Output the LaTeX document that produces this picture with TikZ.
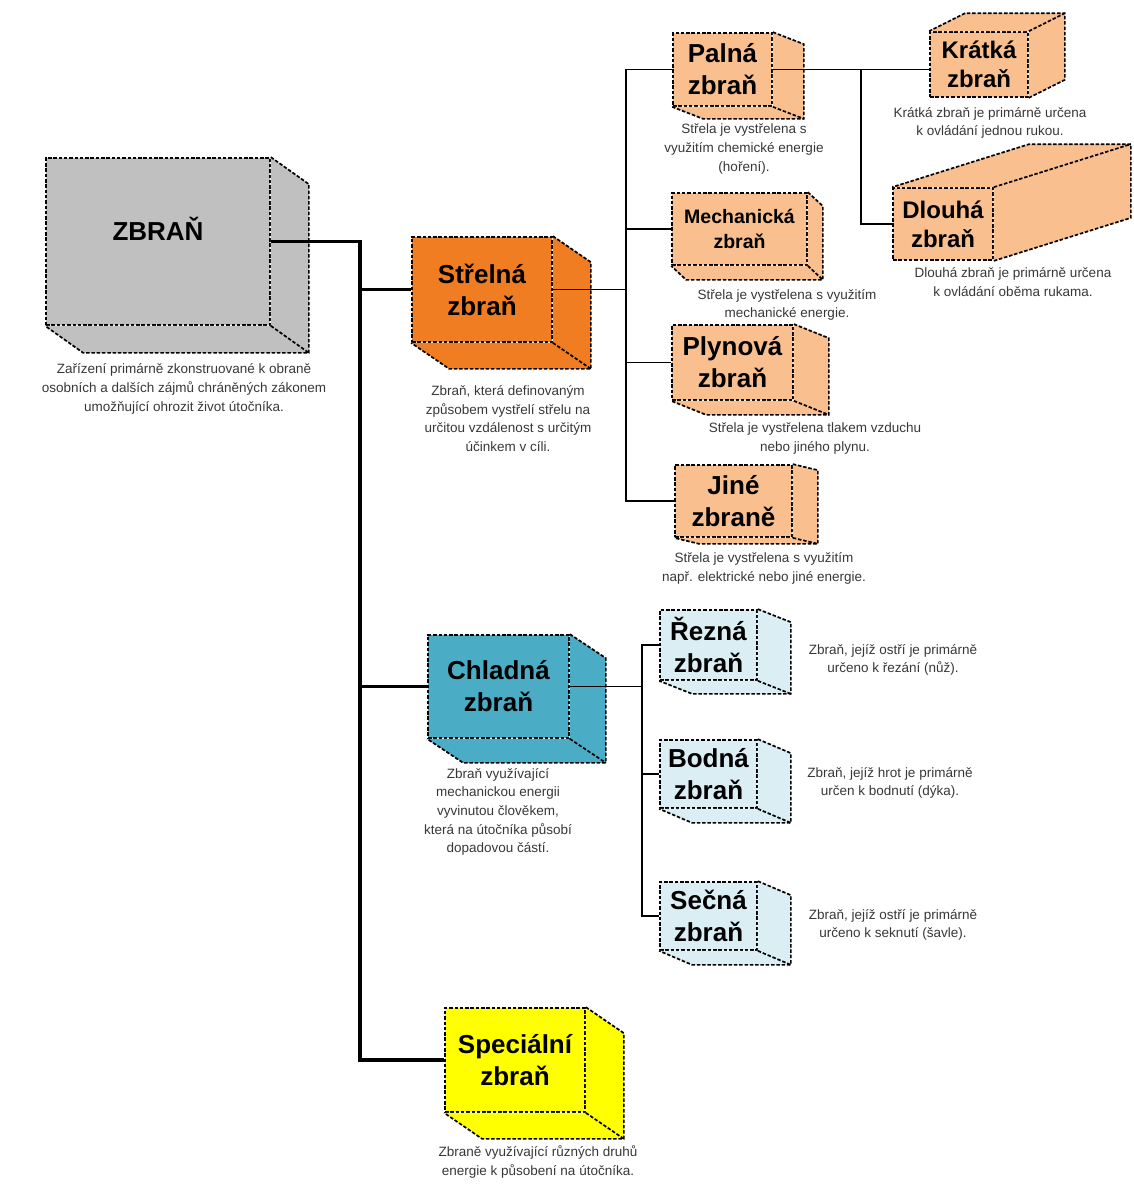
\documentclass[tikz,border=0pt]{standalone}
\usepackage{fontspec}
\setmainfont{Liberation Sans}
\usepackage{tikz}
\usetikzlibrary{calc}

\definecolor{seda}{RGB}{192,192,192}
\definecolor{oranzova}{RGB}{240,125,33}
\definecolor{broskev}{RGB}{250,191,143}
\definecolor{modra}{RGB}{75,172,198}
\definecolor{svetlemodra}{RGB}{218,238,243}
\definecolor{zluta}{RGB}{255,255,0}

\tikzset{
  stena/.style={draw, dash pattern=on 3.5pt off 1.8pt, line width=1.7pt, inner sep=2pt,
    align=center, font=\bfseries\fontsize{26}{32}\selectfont},
  hrana/.style={dash pattern=on 3.5pt off 1.8pt, line width=1.7pt},
  popis/.style={align=center, text=black!78, inner sep=0pt,
    font=\fontsize{13.5}{18.7}\selectfont},
  kmen/.style={line width=3.2pt},
  vetev/.style={line width=1.6pt},
}

% side and bottom (or top) faces of a box: name, colour, depth, anchors
\newcommand{\kvadr}[5]{%
  \fill[#2] (#1.#4 east) -- ++(#3) -- ($(#1.#5 east)+(#3)$) -- (#1.#5 east) -- cycle;
  \fill[#2] (#1.#5 west) -- ++(#3) -- ($(#1.#5 east)+(#3)$) -- (#1.#5 east) -- cycle;
  \draw[hrana] (#1.#4 east) -- ++(#3) -- ($(#1.#5 east)+(#3)$) -- ($(#1.#5 west)+(#3)$) -- (#1.#5 west);
  \draw[hrana] (#1.#5 east) -- ++(#3);
}

\begin{document}
\begin{tikzpicture}[x=1pt,y=-1pt]
\fill[white] (0,0) rectangle (1134,1189);
\useasboundingbox (0,0) rectangle (1134,1189);

% Zbran
\node[stena, fill=seda, minimum width=224pt, minimum height=167pt, text depth=25pt] (zbran) at (158,241.5) {ZBRAŇ};
\kvadr{zbran}{seda}{38,27}{north}{south}
\node[popis] (zbranpopis) at (184,389) {Zařízení primárně zkonstruované k obraně\\osobních a dalších zájmů chráněných zákonem\\umožňující ohrozit život útočníka.};

% Strelna zbran
\node[stena, fill=oranzova, minimum width=140pt, minimum height=105pt] (strelna) at (482,289.5) {Střelná\\zbraň};
\kvadr{strelna}{oranzova}{38,26}{north}{south}
\node[popis] (strelnapopis) at (508,418.5) {Zbraň, která definovaným\\způsobem vystřelí střelu na\\určitou vzdálenost s určitým\\účinkem v cíli.};

% Palna zbran
\node[stena, fill=broskev, minimum width=99pt, minimum height=73pt] (palna) at (722.5,69.5) {Palná\\zbraň};
\kvadr{palna}{broskev}{31,12}{north}{south}
\node[popis] (palnapopis) at (744,149) {Střela je vystřelena s\\využitím chemické energie\\(hoření).};

% Kratka a dlouha zbran
\node[stena, fill=broskev, minimum width=98pt, minimum height=65pt, font=\bfseries\fontsize{24}{29}\selectfont] (kratka) at (979,64.5) {Krátká\\zbraň};
\kvadr{kratka}{broskev}{36,-18}{south}{north}
\node[popis] (kratkapopis) at (990,123) {Krátká zbraň je primárně určena\\k ovládání jednou rukou.};

\node[stena, fill=broskev, minimum width=100pt, minimum height=72pt, font=\bfseries\fontsize{24}{29}\selectfont] (dlouha) at (943,224) {Dlouhá\\zbraň};
\kvadr{dlouha}{broskev}{137,-43}{south}{north}
\node[popis] (dlouhapopis) at (1013,282) {Dlouhá zbraň je primárně určena\\k ovládání oběma rukama.};

% Mechanicka zbran
\node[stena, fill=broskev, minimum width=135pt, minimum height=72pt, font=\bfseries\fontsize{19.5}{25}\selectfont] (mech) at (739.5,229) {Mechanická\\zbraň};
\kvadr{mech}{broskev}{15,14}{north}{south}
\node[popis] (mechpopis) at (787,305) {Střela je vystřelena s využitím\\mechanické energie.};

% Plynova zbran
\node[stena, fill=broskev, minimum width=121pt, minimum height=75pt] (plyn) at (732.5,362.5) {Plynová\\zbraň};
\kvadr{plyn}{broskev}{35,14}{north}{south}
\node[popis] (plynpopis) at (815,438.5) {Střela je vystřelena tlakem vzduchu\\nebo jiného plynu.};

% Jine zbrane
\node[stena, fill=broskev, minimum width=117pt, minimum height=72pt] (jine) at (733.5,501) {Jiné\\zbraně};
\kvadr{jine}{broskev}{25,6}{north}{south}
\node[popis] (jinepopis) at (764,568.5) {Střela je vystřelena s využitím\\např. elektrické nebo jiné energie.};

% Chladna zbran
\node[stena, fill=modra, minimum width=141pt, minimum height=103pt] (chladna) at (498.5,686.5) {Chladná\\zbraň};
\kvadr{chladna}{modra}{36,24}{north}{south}
\node[popis] (chladnapopis) at (498,812) {Zbraň využívající\\mechanickou energii\\vyvinutou člověkem,\\která na útočníka působí\\dopadovou částí.};

% Rezna, bodna a secna zbran
\node[stena, fill=svetlemodra, minimum width=97pt, minimum height=70pt] (rezna) at (708.5,645) {Řezná\\zbraň};
\kvadr{rezna}{svetlemodra}{33,13}{north}{south}
\node[popis] (reznapopis) at (893,660) {Zbraň, jejíž ostří je primárně\\určeno k řezání (nůž).};

\node[stena, fill=svetlemodra, minimum width=97pt, minimum height=68pt] (bodna) at (708.5,774) {Bodná\\zbraň};
\kvadr{bodna}{svetlemodra}{33,14}{north}{south}
\node[popis] (bodnapopis) at (890,783) {Zbraň, jejíž hrot je primárně\\určen k bodnutí (dýka).};

\node[stena, fill=svetlemodra, minimum width=97pt, minimum height=68pt] (secna) at (708.5,916) {Sečná\\zbraň};
\kvadr{secna}{svetlemodra}{33,14}{north}{south}
\node[popis] (secnapopis) at (893,925) {Zbraň, jejíž ostří je primárně\\určeno k seknutí (šavle).};

% Specialni zbran
\node[stena, fill=zluta, minimum width=140pt, minimum height=104pt] (special) at (515,1060) {Speciální\\zbraň};
\kvadr{special}{zluta}{38,26}{north}{south}
\node[popis] (specialpopis) at (538,1162) {Zbraně využívající různých druhů\\energie k působení na útočníka.};

% Spojnice
\coordinate (uzel1) at (360,241.5);
\draw[kmen] (zbran.east) -- (uzel1) |- (strelna.west);
\draw[kmen] (uzel1) |- (chladna.west);
\draw[kmen] (uzel1) |- (special.west);

\coordinate (uzel2) at ($(strelna.east)+(73,0)$);
\draw[vetev] (strelna.east) -- (uzel2);
\draw[vetev] (uzel2) |- (palna.west);
\draw[vetev] (uzel2) |- (mech.west);
\draw[vetev] (uzel2) |- (plyn.west);
\draw[vetev] (uzel2) |- (jine.west);

\coordinate (uzel3) at ($(palna.east)+(88,0)$);
\draw[vetev] (palna.east) -- (kratka.west |- palna.east);
\draw[vetev] (uzel3) |- (dlouha.west);

\coordinate (uzel4) at ($(chladna.east)+(72,0)$);
\draw[vetev] (chladna.east) -- (uzel4);
\draw[vetev] (uzel4) |- (rezna.west);
\draw[vetev] (uzel4) |- (bodna.west);
\draw[vetev] (uzel4) |- (secna.west);
\end{tikzpicture}
\end{document}
